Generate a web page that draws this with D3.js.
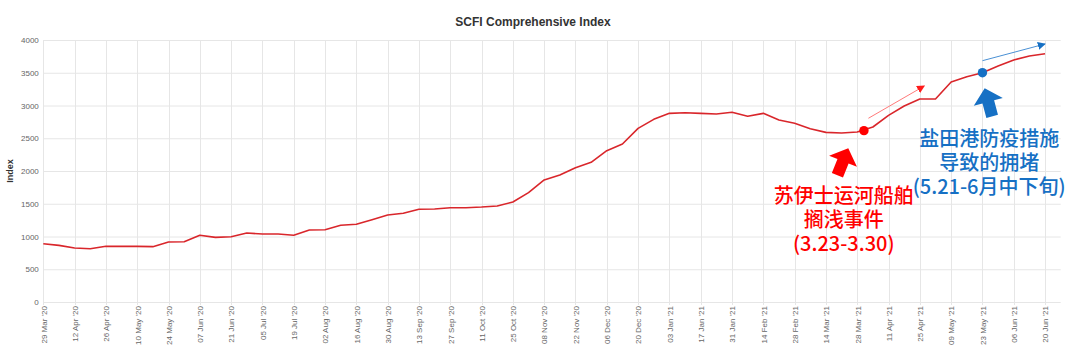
<!DOCTYPE html>
<html>
<head>
<meta charset="utf-8">
<script src="https://cdn.jsdelivr.net/npm/d3@7"></script>
<style>
  html, body { margin: 0; padding: 0; background: #fff; }
  svg { display: block; font-family: "Liberation Sans", Arial, sans-serif; }
</style>
</head>
<body>
<svg id="chart" width="1080" height="355"></svg>
<script>
// ---------------- data ----------------
const firstWeek = "2020-03-29";
const lastDomainDate = "2021-06-27";
const scfiValues = [
  890, 865, 824, 814, 850, 850, 850, 845, 916, 921,
  1018, 987, 997, 1053, 1038, 1038, 1018, 1099, 1104, 1171,
  1186, 1257, 1328, 1354, 1415, 1420, 1440, 1440, 1450, 1466,
  1527, 1669, 1863, 1939, 2051, 2132, 2310, 2412, 2651, 2789,
  2880, 2890, 2880, 2870, 2896, 2835, 2880, 2779, 2728, 2646,
  2590, 2580, 2595, 2672, 2850, 2992, 3099, 3099, 3359, 3440,
  3501, 3603, 3695, 3756, 3791
];
const xTickLabels = [
  "29 Mar '20","12 Apr '20","26 Apr '20","10 May '20","24 May '20","07 Jun '20","21 Jun '20",
  "05 Jul '20","19 Jul '20","02 Aug '20","16 Aug '20","30 Aug '20","13 Sep '20","27 Sep '20",
  "11 Oct '20","25 Oct '20","08 Nov '20","22 Nov '20","06 Dec '20","20 Dec '20","03 Jan '21",
  "17 Jan '21","31 Jan '21","14 Feb '21","28 Feb '21","14 Mar '21","28 Mar '21","11 Apr '21",
  "25 Apr '21","09 May '21","23 May '21","06 Jun '21","20 Jun '21"
];
const yTickValues = [0, 500, 1000, 1500, 2000, 2500, 3000, 3500, 4000];
const titleText = "SCFI Comprehensive Index";
const yAxisTitle = "Index";

// annotations (data units)
const redDot = { date: "2021-03-31", value: 2616 };
const blueDot = { date: "2021-05-23", value: 3501 };
const redTrend = [{ date: "2021-04-02", value: 2805 }, { date: "2021-04-27", value: 3298 }];
const blueTrend = [{ date: "2021-05-23", value: 3684 }, { date: "2021-06-20", value: 3939 }];
const redBlockTip = { date: "2021-03-24", value: 2347, angle: 22 };
const blueBlockTip = { date: "2021-05-24", value: 3262, angle: -15 };
const redNote = ["苏伊士运河船舶", "搁浅事件", "(3.23-3.30)"];
const blueNote = ["盐田港防疫措施", "导致的拥堵", "(5.21-6月中下旬)"];
const redNoteAnchor = { date: "2021-03-22", value: 1634 };
const blueNoteAnchor = { date: "2021-05-26", value: 2504 };

// ---------------- chart ----------------
const parseISO = d3.utcParse("%Y-%m-%d");
const parseTick = d3.utcParse("%d %b '%y");
const startDate = parseISO(firstWeek);
const weekDates = scfiValues.map((_, i) => d3.utcDay.offset(startDate, 7 * i));
const series = weekDates.map((d, i) => ({ date: d, value: scfiValues[i] }));
const tickDates = xTickLabels.map(parseTick);

const plotLeft = 43.3, plotRight = 1060.7, plotTop = 40, plotBottom = 302;
const svg = d3.select("#chart");

const x = d3.scaleUtc().domain([startDate, parseISO(lastDomainDate)]).range([plotLeft, plotRight]);
const y = d3.scaleLinear().domain([0, 4000]).range([plotBottom, plotTop]);

const gridColor = "#e6e6e6";

// horizontal grid
svg.append("g").selectAll("line").data(yTickValues).join("line")
  .attr("x1", plotLeft).attr("x2", plotRight)
  .attr("y1", d => y(d) + 0.5).attr("y2", d => y(d) + 0.5)
  .attr("stroke", gridColor).attr("stroke-width", 1);

// vertical grid
svg.append("g").selectAll("line").data(tickDates).join("line")
  .attr("x1", d => Math.round(x(d)) + 0.5).attr("x2", d => Math.round(x(d)) + 0.5)
  .attr("y1", plotTop).attr("y2", plotBottom + 3)
  .attr("stroke", gridColor).attr("stroke-width", 1);

// y axis labels
const yAxis = d3.axisLeft(y).tickValues(yTickValues).tickSize(0).tickPadding(4).tickFormat(d3.format("d"));
const gy = svg.append("g").attr("transform", `translate(${plotLeft - 0.5},0)`).call(yAxis);
gy.select(".domain").remove();
gy.selectAll("text").attr("fill", "#666").style("font-size", "8px")
  .style("font-family", "'Liberation Sans', Arial, sans-serif");

// x axis labels
const xAxis = d3.axisBottom(x).tickValues(tickDates).tickSize(0)
  .tickFormat((d, i) => xTickLabels[i]);
const gx = svg.append("g").attr("transform", `translate(0,${plotBottom})`).call(xAxis);
gx.select(".domain").remove();
gx.selectAll("text")
  .attr("transform", "rotate(-90)")
  .attr("text-anchor", "end")
  .attr("x", -4).attr("y", 0).attr("dy", "0.35em")
  .attr("fill", "#666").style("font-size", "8px")
  .style("font-family", "'Liberation Sans', Arial, sans-serif");

// title
svg.append("text").attr("x", 533).attr("y", 26).attr("text-anchor", "middle")
  .attr("font-size", 12).attr("font-weight", "bold").attr("fill", "#333").text(titleText);

// y axis title
svg.append("text").attr("transform", `translate(13,${(plotTop + plotBottom) / 2}) rotate(-90)`)
  .attr("text-anchor", "middle").attr("font-size", 9).attr("font-weight", "bold")
  .attr("fill", "#333").text(yAxisTitle);

// line
const line = d3.line().x(d => x(d.date)).y(d => y(d.value));
svg.append("path").datum(series).attr("d", line)
  .attr("fill", "none").attr("stroke", "#d9262b").attr("stroke-width", 1.6)
  .attr("stroke-linejoin", "round");

// markers
const defs = svg.append("defs");
function arrowMarker(id, color) {
  defs.append("marker").attr("id", id).attr("viewBox", "0 0 10 10")
    .attr("refX", 9).attr("refY", 5).attr("markerUnits", "userSpaceOnUse")
    .attr("markerWidth", 8).attr("markerHeight", 8).attr("orient", "auto")
    .append("path").attr("d", "M0,0 L10,5 L0,10 Z").attr("fill", color);
}
arrowMarker("headRed", "#ff1a1a");
arrowMarker("headBlue", "#1670c4");

function trend(pts, color, marker) {
  svg.append("line")
    .attr("x1", x(parseISO(pts[0].date))).attr("y1", y(pts[0].value))
    .attr("x2", x(parseISO(pts[1].date))).attr("y2", y(pts[1].value))
    .attr("stroke", color).attr("stroke-width", 1)
    .attr("marker-end", `url(#${marker})`);
}
trend(redTrend, "#ff7a7a", "headRed");
trend(blueTrend, "#4a90d4", "headBlue");

// dots
svg.append("circle").attr("cx", x(parseISO(redDot.date))).attr("cy", y(redDot.value))
  .attr("r", 4.7).attr("fill", "#ff0000");
svg.append("circle").attr("cx", x(parseISO(blueDot.date))).attr("cy", y(blueDot.value))
  .attr("r", 4.7).attr("fill", "#1670c4");

// block arrows
const blockShape = "M0,0 L15,14 L6,14 L6,29 L-6,29 L-6,14 L-15,14 Z";
function block(tip, color) {
  svg.append("path").attr("d", blockShape)
    .attr("transform", `translate(${x(parseISO(tip.date))},${y(tip.value)}) rotate(${tip.angle})`)
    .attr("fill", color);
}
block(redBlockTip, "#ff0000");
block(blueBlockTip, "#1670c4");

// notes
function note(lines, anchor, color) {
  const cx = x(parseISO(anchor.date)), cy = y(anchor.value);
  svg.append("g").selectAll("text").data(lines).join("text")
    .attr("x", cx).attr("y", (d, i) => cy + i * 24)
    .attr("text-anchor", "middle").attr("dominant-baseline", "central")
    .style("font-family", "'Noto Sans CJK SC', sans-serif")
    .attr("font-size", 20).attr("font-weight", 500).attr("fill", color).text(d => d);
}
note(redNote, redNoteAnchor, "#ff0000");
note(blueNote, blueNoteAnchor, "#1670c4");
</script>
</body>
</html>
